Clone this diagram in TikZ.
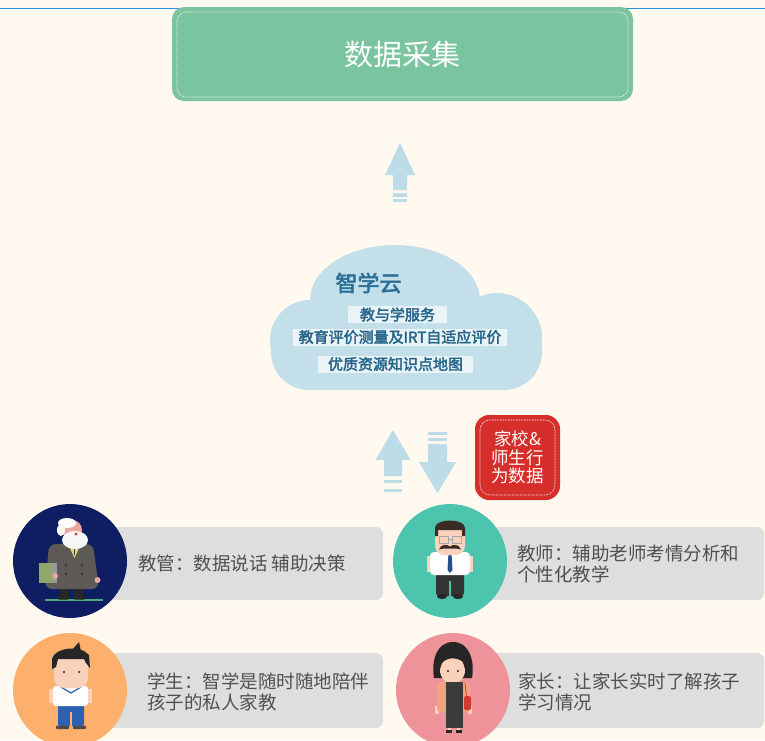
\documentclass[tikz,border=0pt]{standalone}
\usepackage{fontspec}
\newfontfamily\cjk{Noto Sans CJK SC}
\newfontfamily\cjkbold[FakeBold=2.5]{Noto Sans CJK SC}

\definecolor{paper}{HTML}{FFF9EF}
\definecolor{topline}{HTML}{2E8FE3}
\definecolor{greenbox}{HTML}{7BC4A0}
\definecolor{skyblue}{HTML}{BCDCE7}
\definecolor{cloudblue}{HTML}{C3DFEA}
\definecolor{cloudink}{HTML}{24658A}
\definecolor{cloudtitle}{HTML}{2B6E96}
\definecolor{redbox}{HTML}{D52E2B}
\definecolor{cardgray}{HTML}{DEDEDE}
\definecolor{cardink}{HTML}{505050}
\definecolor{navy}{HTML}{0F1E62}
\definecolor{teal}{HTML}{4CC4AE}
\definecolor{apricot}{HTML}{FDB06B}
\definecolor{rose}{HTML}{EE939A}
\definecolor{ink}{HTML}{262626}
\definecolor{skin}{HTML}{FAD2BC}
\definecolor{oldskin}{HTML}{E8A79F}
\definecolor{coat}{HTML}{5E5A57}
\definecolor{coatdark}{HTML}{3E3B39}
\definecolor{shirtyel}{HTML}{D9D77A}
\definecolor{bookgreen}{HTML}{8FA86A}
\definecolor{bookgray}{HTML}{9A9A98}
\definecolor{grass}{HTML}{4FA87E}
\definecolor{hairbrown}{HTML}{3A2B25}
\definecolor{tieblue}{HTML}{24508E}
\definecolor{pantsdark}{HTML}{333333}
\definecolor{pantsblue}{HTML}{2C60B0}
\definecolor{cardigan}{HTML}{F3A283}
\definecolor{dress}{HTML}{3B3B3B}
\definecolor{bagred}{HTML}{D23A2F}

\tikzset{
  skyarrow/.style={fill=skyblue},
  cloudpart/.style={fill=cloudblue},
  cloudlabel/.style={fill=white, fill opacity=0.65, text opacity=1, text=cloudink,
    inner sep=0pt, minimum height=17pt, font=\cjkbold\fontsize{15}{16}\selectfont},
  cardbar/.style={fill=cardgray, rounded corners=7pt},
  avatar/.style={circle, inner sep=0pt, minimum size=114pt},
  cardtext/.style={anchor=west, align=left, inner sep=0pt, text=cardink,
    font=\cjk\fontsize{18.5}{21}\selectfont},
  stitch/.style={white, line width=0.6pt, dash pattern=on 0.8pt off 0.8pt},
}

\begin{document}
\begin{tikzpicture}[x=1pt,y=-1pt]
\useasboundingbox (0,0) rectangle (765,740);
\clip (0,0) rectangle (765,740);
\fill[paper] (0,0) rectangle (765,740);

% thin rule along the top edge
\fill[topline] (0,7.8) rectangle (765,9.2);

% header box
\node[fill=greenbox, rounded corners=12pt, minimum width=461pt, minimum height=94pt,
      inner sep=0pt, text=white, font=\cjk\fontsize{29}{30}\selectfont]
      (collect) at (402.5,54) {数据采集};
\draw[stitch, rounded corners=9pt] (177,12) rectangle (628,97);

% upward arrow below the header
\fill[skyarrow] (400,143) -- (415,175) -- (407,175) -- (407,190) -- (393,190)
  -- (393,175) -- (385,175) -- cycle;
\fill[skyarrow] (393,193) rectangle (407,196.5);
\fill[skyarrow] (393,198.8) rectangle (407,201.8);

% cloud
\fill[cloudpart] (395,300) ellipse (85pt and 55pt);
\fill[cloudpart] (310,340) circle (40pt);
\fill[cloudpart] (497,338) circle (45pt);
\fill[cloudpart, rounded corners=38pt] (271,305) rectangle (542,390);

\node[text=cloudtitle, inner sep=0pt, font=\cjkbold\fontsize{22}{24}\selectfont]
      (cloudname) at (368.5,283) {智学云};
\node[cloudlabel, minimum width=99pt]  (service) at (397.5,314.5) {教与学服务};
\node[cloudlabel, minimum width=214pt] (irt)     at (400,337)     {教育评价测量及IRT自适应评价};
\node[cloudlabel, minimum width=155pt] (kmap)    at (395.5,364)   {优质资源知识点地图};

% two-way arrows between cloud and users
\fill[skyarrow] (393,430) -- (410.5,460) -- (402,460) -- (402,476) -- (384,476)
  -- (384,460) -- (375.5,460) -- cycle;
\fill[skyarrow] (384,479.8) rectangle (402,483.3);
\fill[skyarrow] (384,488.8) rectangle (402,492.3);

\fill[skyarrow] (428,431.5) rectangle (447,434.8);
\fill[skyarrow] (428,437.8) rectangle (447,441);
\fill[skyarrow] (437.5,493) -- (456,462) -- (447,462) -- (447,444) -- (428,444)
  -- (428,462) -- (419,462) -- cycle;

% behaviour data badge
\node[fill=redbox, rounded corners=14pt, minimum width=85pt, minimum height=85pt,
      inner sep=0pt, text=white, align=center, font=\cjk\fontsize{17.5}{18.7}\selectfont]
      (behave) at (517.5,457.5) {家校\&\\师生行\\为数据};
\draw[stitch, rounded corners=10pt] (480,420) rectangle (555,495);

% user cards: bars first, avatars on top
\fill[cardbar] (100,527) rectangle (383,600);
\fill[cardbar] (480,527) rectangle (764,600);
\fill[cardbar] (100,653) rectangle (383,728);
\fill[cardbar] (483,653) rectangle (764,728);

\node[avatar, fill=navy]    (boss)    at (70,561)  {};
\node[avatar, fill=teal]    (teacher) at (450,561) {};
\node[avatar, fill=apricot] (student) at (70,690)  {};
\node[avatar, fill=rose]    (parent)  at (453,690) {};

\node[cardtext] (bosstext)    at (138,563) {教管：数据说话 辅助决策};
\node[cardtext] (teachertext) at (517,564) {教师：辅助老师考情分析和\\个性化教学};
\node[cardtext] (studenttext) at (147,692) {学生：智学是随时随地陪伴\\孩子的私人家教};
\node[cardtext] (parenttext)  at (518,692) {家长：让家长实时了解孩子\\学习情况};

% --- administrator: old man in a grey coat
\begin{scope}[shift={(boss.center)}]
  \fill[grass] (-25,38.2) rectangle (33,39.6);
  \fill[ink] (-10,24) rectangle (-1,38);
  \fill[ink] (4,24) rectangle (13,38);
  \fill[ink, rounded corners=1pt] (-12,35.5) rectangle (-1,38.5);
  \fill[ink, rounded corners=1pt] (4,35.5) rectangle (15,38.5);
  \fill[coat, rounded corners=7pt] (-21,-17) -- (23,-17) -- (29,28) -- (-25,28) -- cycle;
  \fill[shirtyel] (-2,-17) -- (11,-17) -- (4.5,-3) -- cycle;
  \fill[coatdark] (3.6,-15) rectangle (5.4,-6);
  \foreach \p in {(-4,4),(12,4),(-4,13),(12,13)} \fill[coatdark] \p circle (1.5pt);
  \fill[bookgreen] (-31,2) rectangle (-16,22);
  \fill[bookgray] (-18,2) rectangle (-13,22);
  \fill[oldskin] (27.5,19) circle (3pt);
  \fill[oldskin] (-15,15) circle (3pt);
  \fill[oldskin] (2,-31) circle (10pt);
  \fill[white] (-3,-38) ellipse (9pt and 5pt);
  \fill[white] (-9,-31) ellipse (4pt and 6pt);
  \fill[white!93!gray] (5,-21) ellipse (13pt and 9pt);
  \fill[bagred] (6,-27) circle (1.6pt);
\end{scope}

% --- teacher: man with glasses and moustache
\begin{scope}[shift={(teacher.center)}]
  \fill[pantsdark, rounded corners=3pt] (-14,11) rectangle (14,35);
  \fill[teal] (-1,20) rectangle (1,36);
  \fill[ink] (-8,35.5) ellipse (5pt and 2.5pt);
  \fill[ink] (8,35.5) ellipse (5pt and 2.5pt);
  \fill[skin] (-23,-5) rectangle (-19,11);
  \fill[skin] (19,-5) rectangle (23,11);
  \fill[white, rounded corners=4pt] (-20,-9) rectangle (20,14);
  \fill[tieblue] (-1.5,-8) -- (1.5,-8) -- (2.5,9) -- (0,12) -- (-2.5,9) -- cycle;
  \fill[skin, rounded corners=9pt] (-15,-37) rectangle (15,-6);
  \fill[hairbrown] (-15,-25) -- (-15,-33) .. controls (-15,-43) and (15,-43) .. (15,-33)
    -- (15,-25) -- (12,-25) -- (12,-31) -- (-12,-31) -- (-12,-25) -- cycle;
  \draw[gray!70, line width=0.7pt] (-11,-25) rectangle (-2,-18) (2,-25) rectangle (11,-18)
    (-2,-22) -- (2,-22);
  \fill[hairbrown] (0,-14.5) .. controls (-4,-17.5) and (-9,-16.5) .. (-11,-11.5)
    .. controls (-7,-13) and (-3,-12) .. (0,-12.5)
    .. controls (3,-12) and (7,-13) .. (11,-11.5)
    .. controls (9,-16.5) and (4,-17.5) .. (0,-14.5) -- cycle;
\end{scope}

% --- student: boy in school uniform
\begin{scope}[shift={(student.center)}]
  \fill[pantsblue, rounded corners=2pt] (-12,14) rectangle (14,36);
  \fill[apricot] (0,22) rectangle (2,37);
  \fill[gray!60!black, rounded corners=1pt] (-14,35.5) rectangle (-1,39);
  \fill[gray!60!black, rounded corners=1pt] (3,35.5) rectangle (16,39);
  \fill[skin] (-21,-1) rectangle (-17,13);
  \fill[skin] (18,-1) rectangle (22,13);
  \fill[white, rounded corners=3pt] (-17,-4) rectangle (18,16);
  \draw[pantsblue, line width=1.2pt] (-9,-3) -- (1,3) -- (11,-3);
  \fill[skin, rounded corners=10pt] (-16,-34) rectangle (18,-2);
  \fill[ink] (-18,-21) -- (-18,-31) .. controls (-16,-42) and (10,-46) .. (19,-35)
    -- (20,-22) -- (16,-27) -- (14,-31) -- (-12,-31) -- (-14,-23) -- cycle;
  \fill[ink] (2,-40) -- (9,-48) -- (11,-39) -- cycle;
  \fill[ink] (-6,-18) circle (1.1pt);
  \fill[ink] (9,-18) circle (1.1pt);
\end{scope}

% --- parent: woman with a bob and a red bag
\begin{scope}[shift={(parent.center)}]
  \fill[skin] (-5,36) rectangle (-2,41);
  \fill[skin] (4,36) rectangle (7,41);
  \fill[ink] (-7,40) rectangle (-1,43);
  \fill[ink] (3,40) rectangle (9,43);
  \fill[ink] (-19,-12) .. controls (-22,-30) and (-16,-48) .. (0,-48)
    .. controls (16,-48) and (22,-30) .. (19,-12) -- cycle;
  \fill[skin] (-0.5,-20) ellipse (12.5pt and 14pt);
  \fill[ink] (-13,-21) .. controls (-13,-41) and (12,-41) .. (12,-21)
    -- (10,-28) .. controls (4,-33) and (-6,-33) .. (-11,-27) -- cycle;
  \fill[skin] (-3,-10) rectangle (3,-6);
  \fill[skin] (-18,16) rectangle (-14,24);
  \fill[skin] (15,16) rectangle (19,24);
  \fill[cardigan, rounded corners=3pt] (-16,-8) rectangle (17,22);
  \fill[dress] (-7,-8) rectangle (10,38);
  \draw[bagred, line width=0.8pt] (12,-7) -- (13.5,6);
  \fill[bagred, rounded corners=1.5pt] (11,6) rectangle (18,20);
  \fill[ink] (-5,-19) circle (1.1pt);
  \fill[ink] (5,-19) circle (1.1pt);
\end{scope}
\end{tikzpicture}
\end{document}
